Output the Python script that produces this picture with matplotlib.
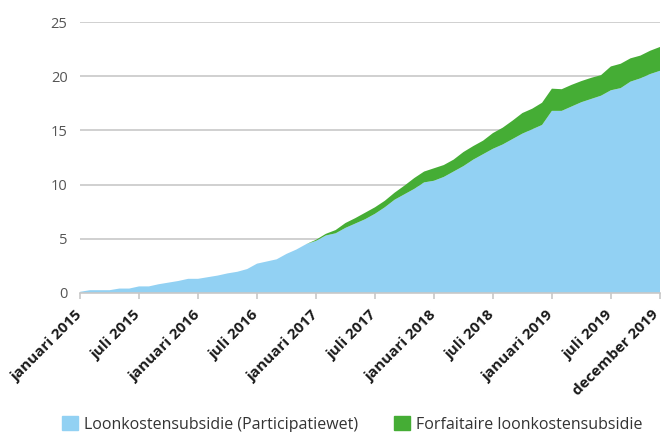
import numpy as np
import matplotlib
matplotlib.use('Agg')
from matplotlib import pyplot as plt
from matplotlib.patches import Patch
import matplotlib.transforms as mtransforms

plt.rcParams['font.family'] = ['Open Sans', 'DejaVu Sans']

# monthly values, januari 2015 .. december 2019
participatiewet = [0.1, 0.25, 0.25, 0.25, 0.4, 0.4, 0.6, 0.6, 0.8, 0.95,
                   1.1, 1.3, 1.3, 1.45, 1.6, 1.8, 1.95, 2.2, 2.7, 2.9,
                   3.1, 3.6, 4.0, 4.5, 4.8, 5.3, 5.5, 6.0, 6.4, 6.8,
                   7.3, 7.9, 8.6, 9.1, 9.6, 10.2, 10.35, 10.7, 11.2, 11.7,
                   12.3, 12.8, 13.3, 13.7, 14.2, 14.7, 15.1, 15.5, 16.8, 16.8,
                   17.2, 17.6, 17.9, 18.2, 18.7, 18.9, 19.5, 19.8, 20.2, 20.5]
forfaitair = [0, 0, 0, 0, 0, 0, 0, 0, 0, 0,
              0, 0, 0, 0, 0, 0, 0, 0, 0, 0,
              0, 0, 0, 0, 0.1, 0.15, 0.3, 0.45, 0.5, 0.6,
              0.6, 0.6, 0.65, 0.8, 1.0, 1.0, 1.15, 1.1, 1.1, 1.3,
              1.25, 1.25, 1.45, 1.55, 1.7, 1.9, 1.9, 2.05, 2.05, 2.0,
              2.0, 1.95, 1.95, 1.9, 2.2, 2.25, 2.15, 2.1, 2.15, 2.2]
tick_pos = [0, 6, 12, 18, 24, 30, 36, 42, 48, 54, 59]
tick_labels = ['januari 2015', 'juli 2015', 'januari 2016', 'juli 2016',
               'januari 2017', 'juli 2017', 'januari 2018', 'juli 2018',
               'januari 2019', 'juli 2019', 'december 2019']
legend_labels = ['Loonkostensubsidie (Participatiewet)', 'Forfaitaire loonkostensubsidie']

blue = '#92d1f3'
green = '#45ad35'

months = np.arange(len(participatiewet))

fig = plt.figure(figsize=(6.62, 4.32), dpi=100)
ax = fig.add_axes([0.121, 0.322, 0.876, 0.627])
ax.stackplot(months, participatiewet, forfaitair, colors=[blue, green],
             linewidth=0, zorder=2)

ax.set_xlim(0, 59)
ax.set_ylim(0, 25)
ax.set_yticks([0, 5, 10, 15, 20, 25])
ax.yaxis.grid(True, color='#c8c8c8', linewidth=1.2, zorder=0)
ax.set_axisbelow(True)
for s in ['top', 'right', 'left']:
    ax.spines[s].set_visible(False)
ax.spines['bottom'].set_color('#c8c8c8')
ax.spines['bottom'].set_linewidth(1.2)
ax.spines['bottom'].set_zorder(3)
ax.tick_params(axis='y', length=0, labelsize=10.5, labelcolor='#555555', pad=9)
ax.tick_params(axis='x', length=4, color='#c8c8c8', width=1.2, pad=2)

ax.set_xticks(tick_pos)
ax.set_xticklabels(tick_labels, rotation=45, ha='right', rotation_mode='anchor',
                   fontweight='bold', fontsize=11, color='#1a1a1a')
# move the rotated labels a bit left and down, like the original
labels = ax.get_xticklabels()
for i, lab in enumerate(labels):
    dx = -5 if i < len(labels) - 1 else -9
    lab.set_transform(lab.get_transform() +
                      mtransforms.ScaledTranslation(dx / 100, -6 / 100, fig.dpi_scale_trans))

handles = [Patch(color=blue), Patch(color=green)]
fig.legend(handles, legend_labels, loc='lower center', bbox_to_anchor=(0.532, -0.035),
           ncol=2, frameon=False, fontsize=11.5, handlelength=1.0, handleheight=1.0,
           columnspacing=2.2, handletextpad=0.4, labelcolor='#333333')

fig.savefig('out.png', dpi=100)
